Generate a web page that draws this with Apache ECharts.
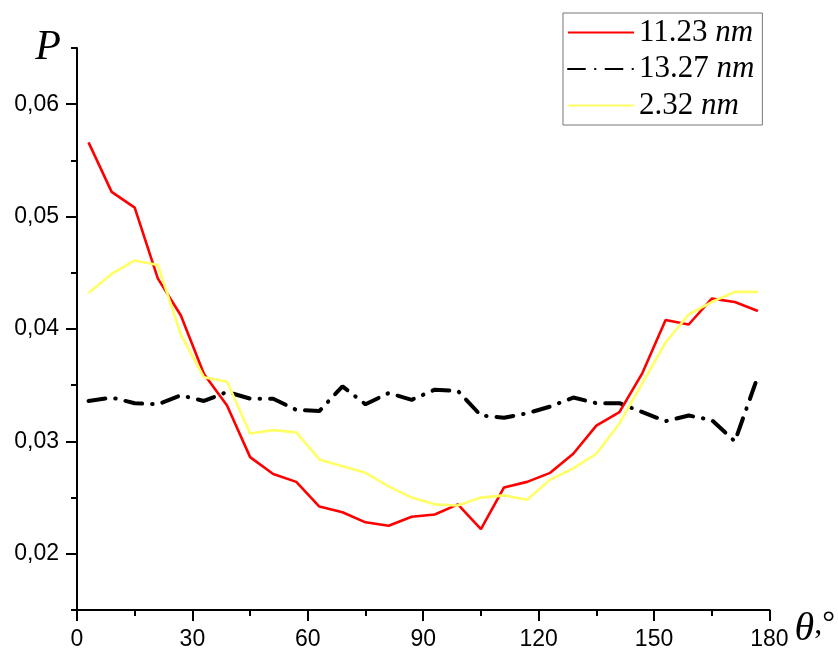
<!DOCTYPE html>
<html>
<head>
<meta charset="utf-8">
<script src="https://cdn.jsdelivr.net/npm/echarts@6/dist/echarts.min.js"></script>
<style>html,body{margin:0;padding:0;background:#fff;}#c{width:838px;height:651px;}</style>
</head>
<body>
<div id="c"></div>
<script>
const theta = [3,9,15,21,27,33,39,45,51,57,63,69,75,81,87,93,99,105,111,117,123,129,135,141,147,153,159,165,171,177];
const names = ['11.23 nm','13.27 nm','2.32 nm'];
const p1123 = [0.0566,0.0522,0.0508,0.0445,0.0412,0.0360,0.0332,0.0286,0.0271,0.0264,0.0242,0.0237,0.0228,0.0225,0.0233,0.0235,0.0244,0.0222,0.0259,0.0264,0.0272,0.0289,0.0314,0.0326,0.0361,0.0408,0.0404,0.0427,0.0424,0.0416];
const p1327 = [0.0336,0.0339,0.0334,0.0333,0.0341,0.0336,0.0344,0.0338,0.0338,0.0328,0.0327,0.0349,0.0333,0.0343,0.0337,0.0346,0.0345,0.0323,0.0321,0.0325,0.0331,0.0339,0.0334,0.0334,0.0326,0.0318,0.0323,0.0319,0.0300,0.0358];
const p232 = [0.0432,0.0449,0.0461,0.0457,0.0395,0.0357,0.0353,0.0307,0.0310,0.0308,0.0284,0.0278,0.0272,0.0260,0.0250,0.0244,0.0243,0.0250,0.0252,0.0248,0.0266,0.0276,0.0289,0.0316,0.0352,0.0388,0.0413,0.0424,0.0433,0.0433];
const yMajor = [0.02,0.03,0.04,0.05,0.06];
const yMinor = [0.015,0.025,0.035,0.045,0.055,0.065];

const pairs = arr => theta.map((t,i)=>[t,arr[i]]);
const chart = echarts.init(document.getElementById('c'));
const axisCommon = {
  axisLine:{show:true,onZero:false,lineStyle:{color:'#000',width:2}},
  splitLine:{show:false}
};
chart.setOption({
  animation:false,
  backgroundColor:'#fff',
  grid:{left:77,right:61,top:48,bottom:40},
  legend:{
    orient:'vertical', left:563, top:13,
    padding:[4,8,4,4], itemGap:5.5, itemWidth:66, itemHeight:20,
    borderColor:'#777', borderWidth:1, backgroundColor:'#fff',
    itemStyle:{opacity:0},
    data:names,
    formatter: n => { const s=n.split(' '); return '{n|'+s[0]+'} {i|'+s[1]+'}'; },
    textStyle:{
      fontFamily:'Liberation Serif', fontSize:31, color:'#000', lineHeight:29,
      rich:{
        n:{fontFamily:'Liberation Serif', fontSize:31, color:'#000', lineHeight:29},
        i:{fontFamily:'Liberation Serif', fontStyle:'italic', fontSize:31, color:'#000', lineHeight:29}
      }
    }
  },
  xAxis:[{
    type:'value', min:0, max:180, interval:30,
    ...axisCommon,
    axisTick:{show:true,inside:false,length:11,lineStyle:{color:'#000',width:2}},
    minorTick:{show:true,splitNumber:2,length:6,lineStyle:{color:'#000',width:2}},
    axisLabel:{fontFamily:'Liberation Sans',fontSize:23,color:'#000',margin:18},
    name:'{t|θ}{c|,°}', nameLocation:'end', nameGap:10,
    nameTextStyle:{align:'left',verticalAlign:'middle',padding:[38,0,0,0],
      rich:{t:{fontFamily:'Liberation Serif',fontStyle:'italic',fontSize:40,color:'#000'},
            c:{fontFamily:'Liberation Serif',fontSize:32,color:'#000',verticalAlign:'top'}}}
  }],
  yAxis:[{
    type:'value', min:0.015, max:0.065,
    ...axisCommon,
    axisTick:{show:true,inside:false,length:11,customValues:yMajor,lineStyle:{color:'#000',width:2}},
    axisLabel:{fontFamily:'Liberation Sans',fontSize:23,color:'#000',margin:18,customValues:yMajor,
      formatter:v=>v.toFixed(2).replace('.',',')},
    name:'P', nameLocation:'end', nameGap:0,
    nameTextStyle:{fontFamily:'Liberation Serif',fontStyle:'italic',fontSize:42,color:'#000',
      align:'right',verticalAlign:'middle',padding:[0,16,0,0]}
  },{
    type:'value', min:0.015, max:0.065, position:'left',
    axisLine:{show:false}, splitLine:{show:false},
    axisTick:{show:true,inside:false,length:6,customValues:yMinor,lineStyle:{color:'#000',width:2}},
    axisLabel:{show:false}
  }],
  series:[
    {name:names[0],type:'line',data:pairs(p1123),showSymbol:false,symbol:'none',symbolSize:0,
     lineStyle:{color:'#ff0000',width:2.6},itemStyle:{color:'#ff0000'},z:3},
    {name:names[1],type:'line',data:pairs(p1327),showSymbol:false,symbol:'none',symbolSize:0,
     lineStyle:{color:'#000',width:4,type:[17,10,0.5,10],cap:'round'},itemStyle:{color:'#000'},z:2},
    {name:names[2],type:'line',data:pairs(p232),showSymbol:false,symbol:'none',symbolSize:0,
     lineStyle:{color:'#ffff66',width:2.6},itemStyle:{color:'#ffff66'},z:4}
  ]
});
</script>
</body>
</html>
